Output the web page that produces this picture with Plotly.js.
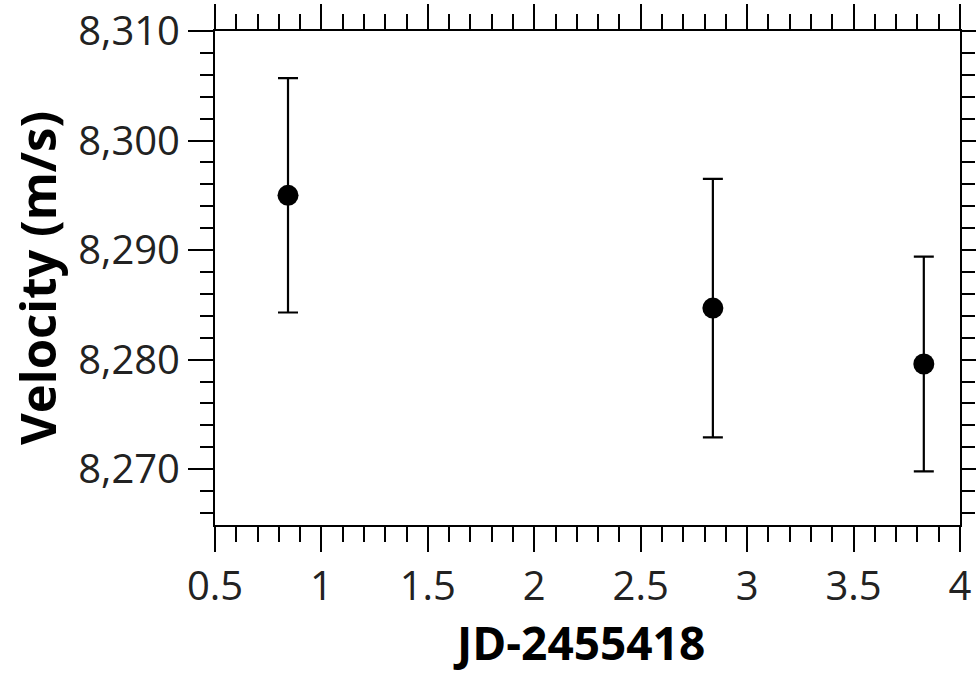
<!DOCTYPE html>
<html>
<head>
<meta charset="utf-8">
<script src="https://cdn.plot.ly/plotly-3.0.1.min.js"></script>
<style>html,body{margin:0;padding:0;background:#fff;}#chart{width:976px;height:675px;}</style>
</head>
<body>
<div id="chart"></div>
<script>
var jd = [0.843, 2.839, 3.83];
var velocity = [8295.0, 8284.7, 8279.6];
var velocityErr = [10.7, 11.8, 9.8];
var xTitle = 'JD-2455418';
var yTitle = 'Velocity (m/s)';

var trace = {
  x: jd, y: velocity, type: 'scatter', mode: 'markers',
  marker: {color: '#000', size: 21},
  error_y: {type: 'data', array: velocityErr, visible: true, color: '#000', thickness: 2.2, width: 10},
  hoverinfo: 'skip'
};

var fam = '"Open Sans", "Noto Sans", sans-serif';
var axisCommon = {
  showline: true, linecolor: '#000', linewidth: 2, mirror: 'allticks',
  ticks: 'outside', ticklen: 25, tickwidth: 2, tickcolor: '#000',
  showgrid: false, zeroline: false,
  tickfont: {family: fam, size: 40, color: '#222'}
};

var layout = {
  width: 976, height: 675,
  margin: {l: 215, r: 16, t: 31, b: 150},
  paper_bgcolor: '#fff', plot_bgcolor: '#fff',
  showlegend: false,
  xaxis: Object.assign({}, axisCommon, {
    range: [0.5, 4], dtick: 0.5, tick0: 0.5,
    minor: {dtick: 0.1, ticks: 'outside', ticklen: 15, tickwidth: 2, tickcolor: '#000', showgrid: false}
  }),
  yaxis: Object.assign({}, axisCommon, {
    range: [8264.9, 8310], dtick: 10, tick0: 8270, tickformat: ',d',
    minor: {dtick: 2, ticks: 'outside', ticklen: 13, tickwidth: 2, tickcolor: '#000', showgrid: false},
    title: {text: yTitle, font: {family: fam, size: 49, color: '#000', weight: 'bold'}, standoff: 6}
  }),
  annotations: [{
    text: xTitle, xref: 'paper', yref: 'paper', x: 0.488, y: -0.302,
    xanchor: 'center', yanchor: 'bottom', showarrow: false, borderpad: 0,
    font: {family: fam, size: 46, color: '#000', weight: 'bold'}
  }]
};

Plotly.newPlot('chart', [trace], layout, {displayModeBar: false, staticPlot: true});
</script>
</body>
</html>
